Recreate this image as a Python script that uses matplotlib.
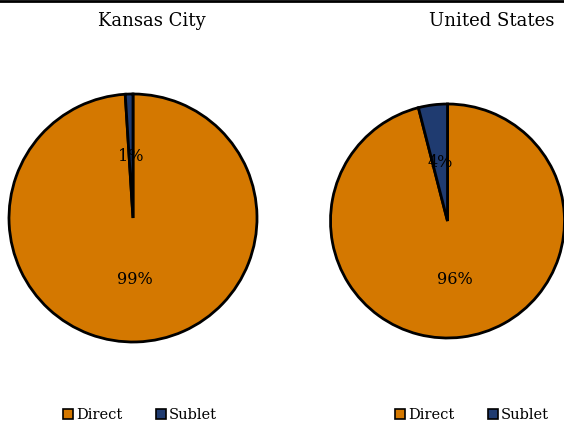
import matplotlib.pyplot as plt
from matplotlib.patches import Patch
from matplotlib.lines import Line2D

# data
categories = ['Direct', 'Sublet']
kc_values = [99, 1]
us_values = [96, 4]
titles = ['Kansas City', 'United States']
colors = ['#D47800', '#1F3B70']

plt.rcParams['font.family'] = ['DejaVu Serif']

W, H = 564, 423
fig = plt.figure(figsize=(W / 100, H / 100), dpi=100)

def pix_axes(x0, top, size):
    return fig.add_axes([x0 / W, (H - top - size) / H, size / W, size / H])

ax1 = pix_axes(9, 94, 248)
ax2 = pix_axes(330.5, 104, 234)

for ax, vals in [(ax1, kc_values), (ax2, us_values)]:
    wedges, texts = ax.pie(vals, colors=colors, startangle=90, counterclock=False,
                           labels=[f'{v}%' for v in vals], labeldistance=0.5,
                           textprops={'fontsize': 11.5, 'ha': 'center', 'va': 'center'},
                           wedgeprops={'edgecolor': 'black', 'linewidth': 2, 'clip_on': False})
    ax.set_xlim(-1, 1)
    ax.set_ylim(-1, 1)
    ax.set_aspect('equal')
    ax.axis('off')

fig.text(152 / W, 1 - 21 / H, titles[0], ha='center', va='center', fontsize=13)
fig.text(492 / W, 1 - 21 / H, titles[1], ha='center', va='center', fontsize=13)

handles = [Patch(facecolor=c, edgecolor='black', linewidth=1.2) for c in colors]
for cx in [140, 472]:
    fig.legend(handles, categories, loc='center', bbox_to_anchor=(cx / W, 1 - 415 / H),
               ncol=2, frameon=False, fontsize=10.5, handlelength=0.7, handleheight=0.7,
               handletextpad=0.2, columnspacing=2.3)

fig.add_artist(Line2D([0, 1], [1 - 1 / H, 1 - 1 / H], color='black', linewidth=2,
                      transform=fig.transFigure))

fig.savefig('out.png', dpi=100)
